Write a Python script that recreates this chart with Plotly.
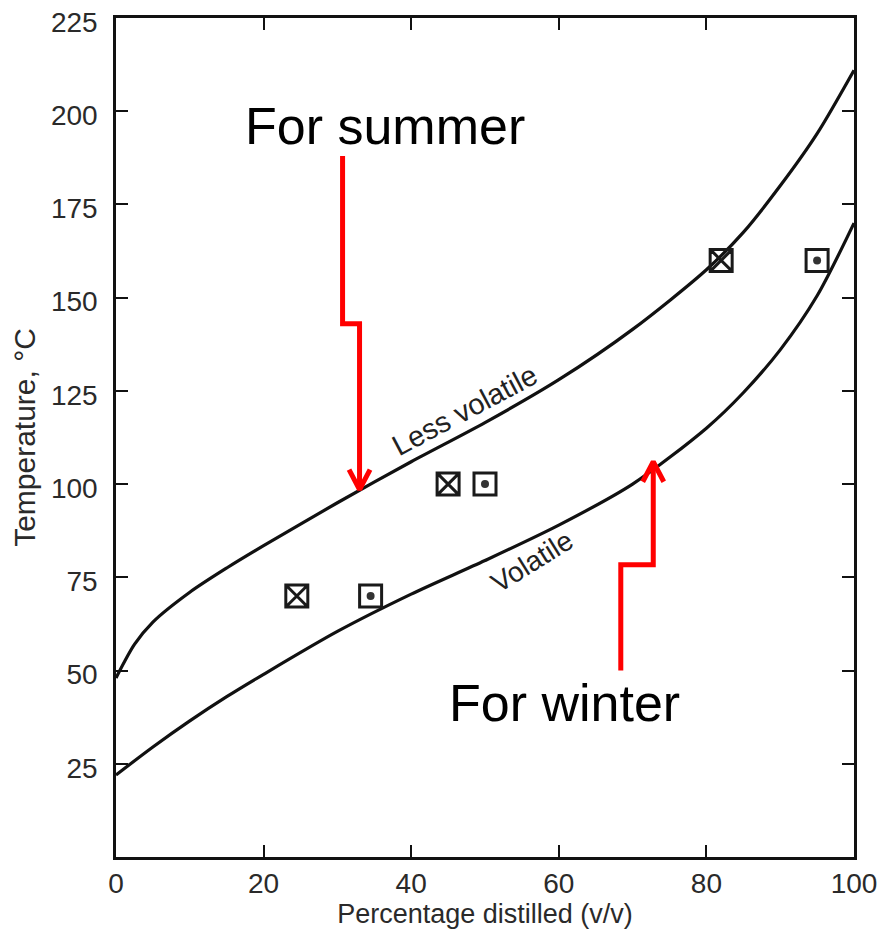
import plotly.graph_objects as go

# ---- data ----
less_x = [0, 2.5, 5, 10, 15, 20, 30, 40, 50, 60, 70, 80, 85, 90, 95, 100]
less_y = [48, 57, 63, 71, 77.5, 83.5, 95, 106, 116.5, 128, 141.5, 157.5, 167.5, 180, 194, 211]

vol_x = [0, 5, 10, 15, 20, 30, 40, 50, 60, 70, 80, 85, 90, 95, 100]
vol_y = [22, 29.5, 36.5, 43, 49, 60.5, 70.5, 79.5, 89, 100, 115, 124.5, 136, 150.5, 170]

cross_x = [24.5, 45, 82]
cross_y = [70, 100, 160]
dot_x = [34.5, 50, 95]
dot_y = [70, 100, 160]

summer_path_x = [30.7, 30.7, 33.0, 33.0]
summer_path_y = [188, 143, 143, 98.5]
winter_path_x = [68.4, 68.4, 72.8, 72.8]
winter_path_y = [50, 78.4, 78.4, 106]

x_ticks = [0, 20, 40, 60, 80, 100]
y_ticks = [25, 50, 75, 100, 125, 150, 175, 200, 225]

# the page body adds an 8px offset, so the figure is sized to compensate
W, H = 881, 926
ML, MR, MT, MB = 108, 35, 10, 77
XR = [0, 100]
YR = [0, 225]
px_x = (XR[1] - XR[0]) / (W - ML - MR)
px_y = (YR[1] - YR[0]) / (H - MT - MB)

FONT = "Liberation Sans, Arial, sans-serif"
RED = "#ff0000"
INK = "#1a1a1a"

fig = go.Figure()
for cx, cy in ((less_x, less_y), (vol_x, vol_y)):
    fig.add_trace(go.Scatter(x=cx, y=cy, mode="lines",
                             line=dict(color="#111", width=3.2, shape="spline", smoothing=0.8),
                             hoverinfo="skip", showlegend=False))

fig.add_trace(go.Scatter(x=cross_x, y=cross_y, mode="markers",
                         marker=dict(symbol="square-x-open", size=22, color=INK,
                                     line=dict(width=3, color=INK)),
                         showlegend=False))
fig.add_trace(go.Scatter(x=dot_x, y=dot_y, mode="markers",
                         marker=dict(symbol="square-open", size=22, color=INK,
                                     line=dict(width=3, color=INK)),
                         showlegend=False))
fig.add_trace(go.Scatter(x=dot_x, y=dot_y, mode="markers",
                         marker=dict(symbol="circle", size=8, color="#333",
                                     line=dict(width=0)),
                         showlegend=False))


def arrow(px_list, py_list, direction):
    fig.add_trace(go.Scatter(x=px_list, y=py_list, mode="lines",
                             line=dict(color=RED, width=5),
                             hoverinfo="skip", showlegend=False))
    tx, ty = px_list[-1], py_list[-1]
    dy = 20 * px_y * direction
    dx = 10.5 * px_x
    fig.add_trace(go.Scatter(x=[tx - dx, tx, tx + dx], y=[ty + dy, ty, ty + dy],
                             mode="lines", line=dict(color=RED, width=5),
                             hoverinfo="skip", showlegend=False))


arrow(summer_path_x, summer_path_y, 1)
arrow(winter_path_x, winter_path_y, -1)

annotations = [
    dict(x=36.4, y=196, text="For summer", font=dict(size=52, color="#000", family=FONT)),
    dict(x=60.8, y=41.3, text="For winter", font=dict(size=52, color="#000", family=FONT)),
    dict(x=47.3, y=119.8, text="Less volatile", textangle=-28,
         font=dict(size=29, color="#222", family=FONT)),
    dict(x=56.4, y=79.2, text="Volatile", textangle=-32,
         font=dict(size=28, color="#222", family=FONT)),
]
for a in annotations:
    a.update(xref="x", yref="y", showarrow=False)

axis_common = dict(showgrid=False, zeroline=False, showline=True, linecolor="#111",
                   linewidth=2.5, mirror="ticks", ticks="inside", ticklen=12,
                   tickwidth=2, tickcolor="#111", automargin=False,
                   ticklabeloverflow="allow",
                   tickfont=dict(size=28, color="#2a2a2a", family=FONT))

fig.update_layout(
    width=W, height=H,
    margin=dict(l=ML, r=MR, t=MT, b=MB),
    paper_bgcolor="white", plot_bgcolor="white",
    annotations=annotations,
    xaxis=dict(range=XR, tickvals=x_ticks, ticktext=[str(v) for v in x_ticks],
               ticklabelstandoff=0,
               title=dict(text="Percentage distilled (v/v)", standoff=2,
                          font=dict(size=27, color="#2a2a2a", family=FONT)),
               **axis_common),
    yaxis=dict(range=YR, tickvals=y_ticks, ticktext=[str(v) for v in y_ticks],
               ticklabelstandoff=10, ticklabelshift=4,
               title=dict(text="Temperature, °C", standoff=8,
                          font=dict(size=30, color="#2a2a2a", family=FONT)),
               **axis_common),
)

fig.write_html("out.html")
